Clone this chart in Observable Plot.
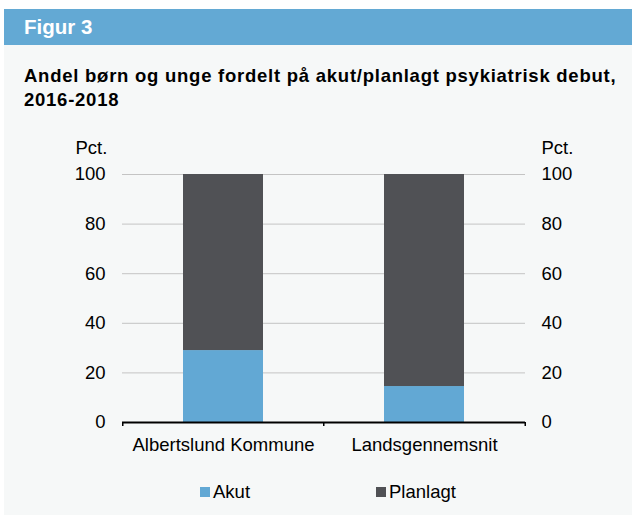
<!DOCTYPE html>
<html>
<head>
<meta charset="utf-8">
<script src="https://cdn.jsdelivr.net/npm/d3@7"></script>
<script src="https://cdn.jsdelivr.net/npm/@observablehq/plot@0.6"></script>
<style>
  html, body { margin: 0; padding: 0; background: #ffffff; }
  body { width: 632px; height: 515px; position: relative; overflow: hidden; font-family: "Liberation Sans", Arial, sans-serif; }
  #panel { position: absolute; left: 4px; top: 9px; width: 628px; height: 506px; background: #f6f8f8; }
  #header { position: absolute; left: 0; top: 0; width: 628px; height: 36px; background: #63a9d4; }
  #header span { position: absolute; left: 20px; top: 7.4px; color: #fff; font-weight: bold; font-size: 20.5px; line-height: 22px; white-space: nowrap; }
  #title { position: absolute; left: 20px; top: 55.3px; width: 606px; font-weight: bold; font-size: 18.5px; letter-spacing: 0.75px; line-height: 24px; color: #000; white-space: nowrap; }
  #chart { position: absolute; left: 0; top: 130px; }
  #legend { position: absolute; left: 200px; top: 481px; display: flex; align-items: center; font-size: 18.5px; color: #000; }
  .item { display: flex; align-items: center; }
  .sw { width: 10px; height: 10px; margin-right: 3px; }
</style>
</head>
<body>
<div id="panel">
  <div id="header"><span>Figur 3</span></div>
  <div id="title">Andel børn og unge fordelt på akut/planlagt psykiatrisk debut,<br>2016-2018</div>
</div>
<div id="chart"></div>
<div id="legend"></div>
<script>
const categories = ["Albertslund Kommune", "Landsgennemsnit"];
const types = ["Akut", "Planlagt"];
const akut = [29, 14.5];
const planlagt = [71, 85.5];
const yTicks = [0, 20, 40, 60, 80, 100];
const colors = ["#62a8d4", "#505155"];
const unitLabel = "Pct.";

const rows = [];
categories.forEach((c, i) => {
  rows.push({kat: c, type: types[0], value: akut[i]});
  rows.push({kat: c, type: types[1], value: planlagt[i]});
});

const halfStep = 100.75;
const plot = Plot.plot({
  width: 632,
  height: 340,
  marginTop: 44,
  marginBottom: 48,
  marginLeft: 122,
  marginRight: 107,
  style: {background: "transparent", fontFamily: "'Liberation Sans', Arial, sans-serif", fontSize: "18.5px", color: "#000", overflow: "visible"},
  x: {domain: categories, paddingInner: 0.6, paddingOuter: 0.3},
  y: {domain: [0, 100]},
  color: {domain: types, range: colors},
  marks: [
    Plot.ruleY(yTicks.filter(d => d > 0), {y: d => d, stroke: "#c4c4c4", strokeWidth: 1}),
    Plot.barY(rows, {x: "kat", y: "value", fill: "type"}),
    Plot.ruleY([0], {stroke: "#000", strokeWidth: 2}),
    Plot.ruleX(categories, {x: d => d, dx: -halfStep, y1: 0, y2: -1.6, stroke: "#000", strokeWidth: 1.5}),
    Plot.ruleX(categories.slice(-1), {x: d => d, dx: halfStep, y1: 0, y2: -1.6, stroke: "#000", strokeWidth: 1.5}),
    Plot.axisY({anchor: "left", ticks: yTicks, tickSize: 0, tickPadding: 17, label: null}),
    Plot.axisY({anchor: "right", ticks: yTicks, tickSize: 0, tickPadding: 16, label: null}),
    Plot.axisX({tickSize: 0, tickPadding: 15.5, label: null}),
    Plot.text([unitLabel], {text: d => d, frameAnchor: "top-left", dx: -47, dy: -26, textAnchor: "start", lineAnchor: "middle", fill: "#000"}),
    Plot.text([unitLabel], {text: d => d, frameAnchor: "top-right", dx: 16, dy: -26, textAnchor: "start", lineAnchor: "middle", fill: "#000"})
  ]
});
document.getElementById("chart").appendChild(plot);

const colorScale = plot.scale("color");
const legend = document.getElementById("legend");
types.forEach((t, i) => {
  const item = document.createElement("div");
  item.className = "item";
  if (i < types.length - 1) item.style.marginRight = "126px";
  const sw = document.createElement("div");
  sw.className = "sw";
  sw.style.background = colorScale.apply(t);
  const label = document.createElement("span");
  label.textContent = t;
  item.appendChild(sw);
  item.appendChild(label);
  legend.appendChild(item);
});
</script>
</body>
</html>
